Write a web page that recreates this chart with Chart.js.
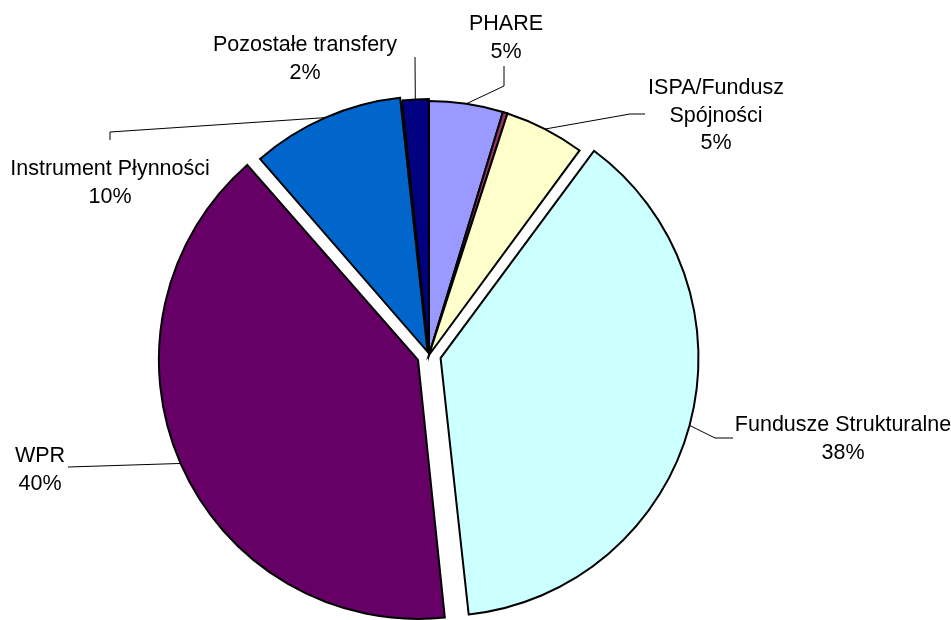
<!DOCTYPE html>
<html>
<head>
<meta charset="utf-8">
<script src="https://cdn.jsdelivr.net/npm/chart.js@4.4.1/dist/chart.umd.min.js"></script>
<style>
  html, body { margin: 0; padding: 0; background: #fff; }
  #wrap { width: 951px; height: 620px; }
</style>
</head>
<body>
<div id="wrap"><canvas id="myChart" width="951" height="620"></canvas></div>
<script>
// slices, clockwise from 12 o'clock
const names = [
  'PHARE',
  '',
  'ISPA/Fundusz\nSpójności',
  'Fundusze Strukturalne',
  'WPR',
  'Instrument Płynności',
  'Pozostałe transfery'
];
const values = [4.7, 0.3, 5.1, 38.2, 40.3, 9.7, 1.7];
const colors = ['#9999FF', '#993366', '#FFFFCC', '#CCFFFF', '#660066', '#0066CC', '#000080'];
// chart.js v4 moves an arc by offset / 4
const offsets = [0, 0, 0, 48, 48, 14, 4];

// where each callout text sits and how its leader line bends
const callouts = [
  { x: 506, y: 30, line: [[504, 86], [504, 66]] },
  null,
  { x: 716, y: 94, line: [[630, 114], [645, 114]] },
  { x: 843, y: 431, line: [[715, 438], [733, 438]] },
  { x: 40, y: 462, line: [[68, 467]] },
  { x: 110, y: 175, line: [[110, 132], [110, 140]] },
  { x: 305, y: 51, line: [[415, 57]] }
];

const calloutPlugin = {
  id: 'callouts',
  afterDatasetsDraw(chart) {
    const ctx = chart.ctx;
    const meta = chart.getDatasetMeta(0);
    const total = values.reduce((a, b) => a + b, 0);
    ctx.save();
    ctx.font = '21.5px "Liberation Sans", Arial, sans-serif';
    ctx.textAlign = 'center';
    ctx.textBaseline = 'alphabetic';
    meta.data.forEach((arc, i) => {
      const c = callouts[i];
      if (!c) return;
      const p = arc.getProps(['x', 'y', 'startAngle', 'endAngle', 'outerRadius', 'circumference'], true);
      const mid = (p.startAngle + p.endAngle) / 2;
      const off = (arc.options.offset || 0) / 4;
      const fix = 1 - Math.sin(Math.min(Math.PI, p.circumference || 0));
      const r = p.outerRadius + off * (1 + fix);
      ctx.beginPath();
      ctx.moveTo(p.x + Math.cos(mid) * r, p.y + Math.sin(mid) * r);
      c.line.forEach(pt => ctx.lineTo(pt[0], pt[1]));
      ctx.strokeStyle = '#000';
      ctx.lineWidth = 1;
      ctx.stroke();

      ctx.fillStyle = '#000';
      const lines = names[i].split('\n').concat(Math.round(values[i] / total * 100) + '%');
      lines.forEach((t, k) => ctx.fillText(t, c.x, c.y + k * 27.5));
    });
    ctx.restore();
  }
};

const ctx = document.getElementById('myChart');
const myChart = new Chart(ctx, {
  type: 'pie',
  data: {
    labels: names,
    datasets: [{
      data: values,
      backgroundColor: colors,
      borderColor: '#000',
      borderWidth: 2,
      borderJoinStyle: 'miter',
      offset: offsets,
      clip: false
    }]
  },
  options: {
    responsive: false,
    animation: false,
    radius: 254,
    layout: { padding: { left: 0, right: 93, top: 90, bottom: 0 } },
    plugins: {
      legend: { display: false },
      tooltip: { enabled: false }
    }
  },
  plugins: [calloutPlugin]
});
</script>
</body>
</html>
